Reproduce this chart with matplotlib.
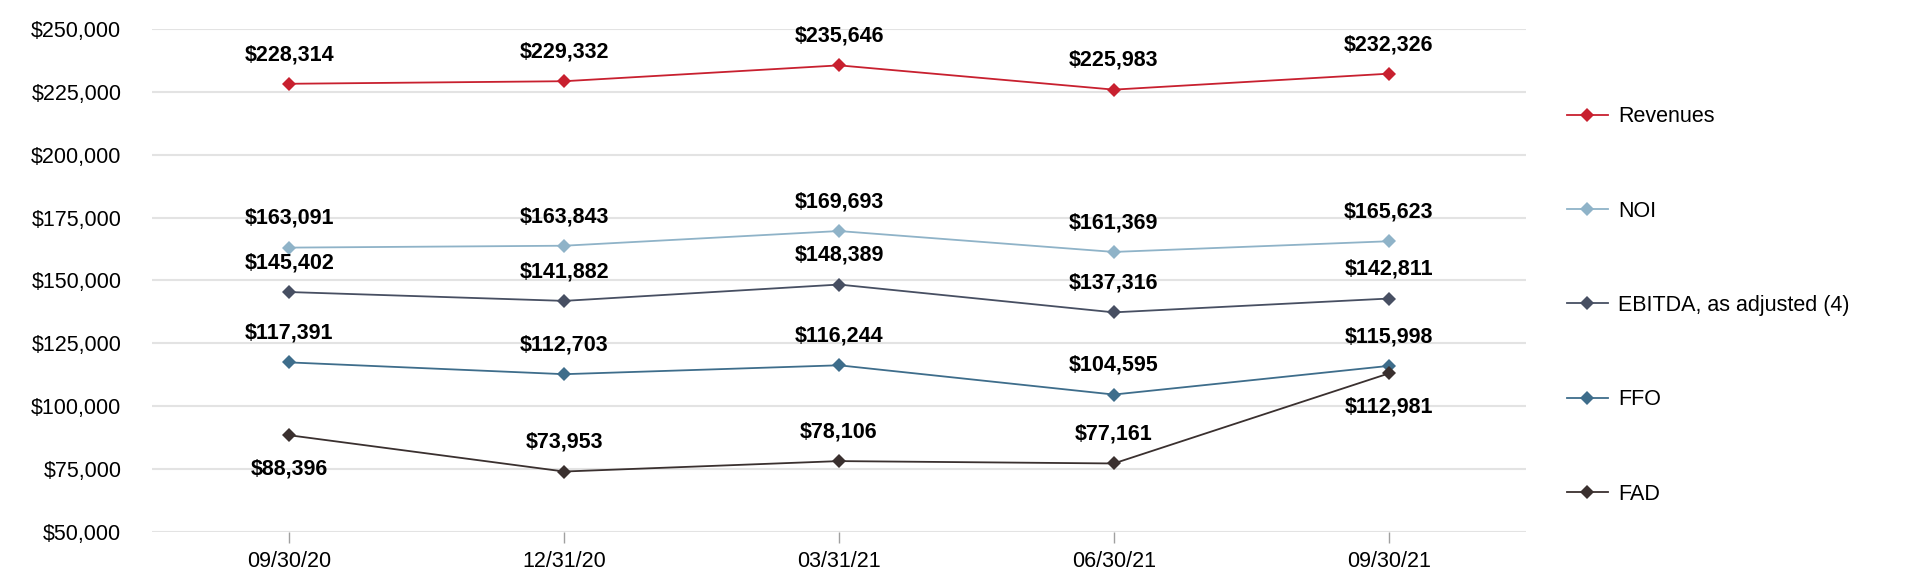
import matplotlib
matplotlib.use('Agg')
import matplotlib.pyplot as plt
from matplotlib.ticker import FuncFormatter

plt.rcParams['font.family'] = ['Liberation Sans', 'DejaVu Sans']

quarters = ['09/30/20', '12/31/20', '03/31/21', '06/30/21', '09/30/21']

revenues = [228314, 229332, 235646, 225983, 232326]
noi = [163091, 163843, 169693, 161369, 165623]
ebitda = [145402, 141882, 148389, 137316, 142811]
ffo = [117391, 112703, 116244, 104595, 115998]
fad = [88396, 73953, 78106, 77161, 112981]

series_names = ['Revenues', 'NOI', 'EBITDA, as adjusted (4)', 'FFO', 'FAD']
series_values = [revenues, noi, ebitda, ffo, fad]
colors = ['#C8202F', '#8FB3C8', '#474F62', '#3E6D8B', '#3A302F']
# +1 = label above the point, -1 = below
label_side = [
    [1, 1, 1, 1, 1],
    [1, 1, 1, 1, 1],
    [1, 1, 1, 1, 1],
    [1, 1, 1, 1, 1],
    [-1, 1, 1, 1, -1],
]

fig = plt.figure(figsize=(19.14, 5.70), dpi=100)
ax = fig.add_axes([0.0794, 0.0672, 0.7179, 0.8814])

x = list(range(len(quarters)))
for name, vals, col, sides in zip(series_names, series_values, colors, label_side):
    ax.plot(x, vals, color=col, linewidth=1.3, marker='D', markersize=7.5,
            markeredgewidth=0, label=name, zorder=3)
    for xi, v, s in zip(x, vals, sides):
        off = 21 if s > 0 else -24
        ax.annotate('${:,.0f}'.format(v), (xi, v), xytext=(0, off),
                    textcoords='offset points', ha='center', va='center',
                    fontsize=15.5, fontweight='bold', color='black', zorder=4)

ax.set_xlim(-0.5, 4.5)
ax.set_ylim(50000, 250000)
ax.set_yticks(range(50000, 250001, 25000))
ax.yaxis.set_major_formatter(FuncFormatter(lambda v, p: '${:,.0f}'.format(v)))
ax.set_xticks(x)
ax.set_xticklabels(quarters)

ax.grid(axis='y', color='#E3E3E3', linewidth=1.5, zorder=0)
ax.set_axisbelow(True)
for sp in ax.spines.values():
    sp.set_visible(False)

ax.tick_params(axis='y', length=0, pad=22, labelsize=15.5)
ax.tick_params(axis='x', length=8, width=1, color='#A0A0A0', pad=6, labelsize=15.5)

fig.legend(loc='center left', bbox_to_anchor=(0.8185, 0.464), frameon=False,
           fontsize=15.5, labelspacing=3.41, handlelength=1.9, handletextpad=0.5,
           borderpad=0, borderaxespad=0)

fig.savefig('out.png', dpi=100)
